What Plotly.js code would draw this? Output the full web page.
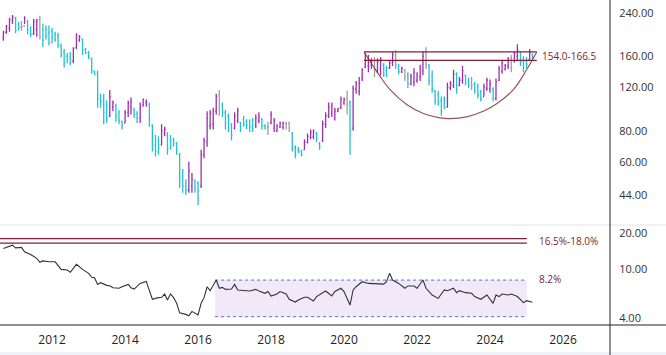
<!DOCTYPE html>
<html><head><meta charset="utf-8">
<script src="https://cdn.plot.ly/plotly-3.0.1.min.js"></script>
<style>html,body{margin:0;padding:0;background:#fff;overflow:hidden}#chart{width:666px;height:355px}</style>
</head><body><div id="chart"></div>
<script>
// ---- data ----
const START_YEAR = 2010, START_MONTH = 9; // first monthly bar: Sep 2010
// P = up (purple), C = down (cyan), G = neutral (grey)
const barColor = "PPPPCCGPCC" + "PPGCCCCCCC" + "CCCPPPCCCC" + "CCCCCPPCCC" + "PPPCCPPPCC" +
                 "CCPPCCCCCC" + "CPPCCPPPPP" + "PGCCCCPPCC" + "CCCPPCCGPP" + "PPPGGCCCCP" +
                 "PPPCCPPPPP" + "PPPGCPPPPP" + "PPGPPCCPPG" + "CPGCPPPPPG" + "CCCCCCPPPC" +
                 "PPCCGCCCPP" + "PCPPPPPGPP" + "CCCPC";
const openP = [189,200,208,222,228,216,210,212,222,207, 197,205,225,205,206,200,202,196,193,176,
  166,160,160,153,174,186,188,171,166,157, 139,137,111,106,102,92,100,101,94,87,
  86,95,100,97,94,90,102,104,102,84, 70,72,70,78,77,74,73,71,64,54,
  49,46,48,50,49,48,64,72,84,85, 96,112,102,95,92,84,82,88,86,89,
  87,87,88,84,88,89,84,83,86,82, 80,83,83,86,86,78,68,67,66,67,
  72,75,76,78,71,73,85,92,94,90, 96,99,104,108,104,82,118,115,130,145,
  146,147,153,140,142,148,140,144,150,162, 146,138,140,135,124,126,128,132,140,165,
  147,132,116,112,106,108,100,119,122,135, 122,128,134,128,125,124,120,115,110,118,
  118,118,108,128,139,142,146,157,153,160, 166,156,152,155,163];
const highP = [203,214,229,235,231,220,222,232,224,211, 226,226,233,217,213,213,208,201,199,180,
  171,165,167,174,198,195,189,173,168,158, 140,140,113,113,106,117,106,103,97,88,
  97,106,109,99,96,104,108,107,104,85, 77,76,85,83,79,77,75,72,65,56,
  51,60,54,51,50,67,75,96,97,99, 113,117,104,97,94,86,95,99,87,92,
  89,89,90,93,95,90,85,87,96,90, 85,87,87,87,87,79,70,69,67,74,
  78,81,81,79,72,88,95,104,104,99, 99,110,109,116,106,122,127,132,143,165,
  162,157,159,157,159,150,146,153,167,169, 149,145,142,138,136,143,138,148,167,174,
  149,140,117,116,110,110,125,127,141,138, 132,146,135,131,132,126,124,117,124,131,
  129,120,130,146,153,149,159,162,167,179, 167,160,159,171,164];
const lowP = [185,197,201,216,198,203,203,216,196,191, 195,192,187,174,187,177,180,183,173,158,
  144,150,147,150,171,183,162,163,156,136, 134,99,99,85,86,91,96,87,85,81,
  86,91,93,90,86,86,100,100,83,66, 63,64,70,76,64,67,69,64,47,45,
  44,45,45,45,40,47,62,69,81,81, 93,92,91,81,79,73,81,86,79,83,
  81,79,79,82,86,81,81,77,85,79, 79,82,81,81,79,66,62,65,63,67,
  71,74,74,72,67,72,82,90,91,88, 95,98,102,93,64,80,113,111,127,143,
  138,142,132,137,134,132,132,142,146,142, 135,137,127,119,122,121,125,127,134,142,
  122,114,102,101,92,98,99,117,119,113, 121,124,122,119,117,113,108,105,110,116,
  114,105,106,127,136,140,142,138,151,153, 146,138,143,153,156];
const closeP = [200,211,225,230,204,208,210,228,204,196, 221,224,192,185,193,182,190,186,178,162,
  150,155,151,172,193,192,170,166,160,140, 136,108,105,95,90,110,104,92,88,84,
  95,103,105,93,90,100,107,105,89,70, 66,68,80,81,68,70,71,66,51,48,
  46,55,51,47,46,64,73,90,94,96, 110,99,95,86,82,77,92,96,82,85,
  84,83,82,90,91,84,82,83,93,88, 84,86,86,85,82,68,64,66,64,72,
  76,79,80,74,69,85,92,100,101,96, 98,107,107,102,80,118,124,125,141,162,
  155,152,140,152,155,136,134,150,162,148, 139,143,132,124,132,138,134,144,160,148,
  128,118,106,104,96,100,120,124,136,118, 128,140,126,122,122,116,112,108,120,128,
  124,108,126,142,150,147,156,144,164,170, 152,144,148,166,158];

// lower panel line (month index from first bar, value %)
const ratioMonth = [1,2,4,5,7,8,10,12,13,14,16,18,19,20,22,23,24,25,26,27,29,30,31,32,33,35,36,37,39,40,
  42,43,44,46,48,49,50,52,53,54,55,56,57,58,59,61,62,63,65,66,67,68,69,71,72,73,74,76,77,78,
  81,82,84,85,87,88,89,91,92,94,95,97,98,100,101,103,104,106,107,109,110,112,113,115,116,117,119,121,122,124,
  126,127,128,129,131,133,134,136,137,139,140,142,144,145,146,147,149,150,151,153,155,156,158,160,162,163,164,165,167,168,
  170,172,173,175];
const ratioValue = [14.95,15.26,15.9,15.1,15.26,14.03,13.34,12.38,11.5,11.8,11.6,11.6,10.9,10.05,9.93,9.5,10.25,11.05,10.57,10.05,9.32,8.64,8.57,7.56,7.8,7.42,7.37,7.1,7.02,7.23,
  7.56,7.1,6.92,7.7,8.0,6.67,5.7,5.88,5.92,6.3,5.62,6.3,5.88,5.28,4.41,4.28,4.17,4.53,4.23,5.28,5.88,7.23,6.71,8.21,7.02,7.14,6.88,6.92,7.56,6.8,
  6.71,6.67,6.88,6.67,6.38,6.6,6.06,6.3,6.6,6.3,5.7,5.41,5.62,5.92,5.92,5.52,6.0,6.5,6.67,6.06,6.6,7.02,6.6,5.11,6.8,7.23,7.95,7.7,7.7,7.6,
  7.6,7.95,9.32,8.21,7.7,7.02,7.34,7.34,7.02,8.21,7.02,6.18,5.8,6.3,6.8,6.71,7.02,6.46,6.71,6.46,6.38,6.0,5.7,6.18,5.28,6.18,6.0,6.3,6.18,6.3,
  6.0,5.35,5.55,5.38];

// resistance zone & rounded-bottom curve (upper panel)
const zoneLow = 154.0, zoneHigh = 166.5;
const zoneStart = '2020-07-19', zoneEnd = '2025-04-13';
const bowlDates = ['2020-07-19','2020-10-21','2020-12-27','2021-04-06','2021-09-19','2022-03-05','2022-08-18',
  '2022-11-26','2023-05-12','2023-10-25','2024-03-07','2024-08-22','2025-01-01','2025-04-13'];
const bowlValues = [166.5,145.5,132.6,117.3,102.1,93.9,90.2,89.6,91.1,95.9,102.9,117.3,141.1,166.5];

// lower panel reference lines and band
const refLow = 16.5, refHigh = 18.0, refStart = '2010-07-29', refEnd = '2025-01-04';
const bandHigh = 8.2, bandLow = 4.1, bandStart = '2016-06-20', bandEnd = '2025-01-04';

const priceTicks = [44, 60, 80, 120, 160, 240];
const ratioTicks = [4, 10, 20];
const yearTicks = [2012, 2014, 2016, 2018, 2020, 2022, 2024, 2026];

// ---- build ----
function monthDate(i) {
  const m = START_MONTH - 1 + i;
  const y = START_YEAR + Math.floor(m / 12);
  return y + '-' + String(m % 12 + 1).padStart(2, '0') + '-01';
}
const dates = openP.map((_, i) => monthDate(i));

const MAROON = 'rgb(128,30,52)';
const colors = { P: '#9b2fae', C: '#22c1d6', G: '#9e9e9e' };
const traces = [];

// band fill
traces.push({ type: 'scatter', mode: 'lines', xaxis: 'x', yaxis: 'y2',
  x: [bandStart, bandEnd, bandEnd, bandStart, bandStart],
  y: [bandHigh, bandHigh, bandLow, bandLow, bandHigh],
  fill: 'toself', fillcolor: 'rgba(236,226,247,0.75)', line: { width: 0 }, hoverinfo: 'skip', showlegend: false });
[bandHigh, bandLow].forEach(v => traces.push({ type: 'scatter', mode: 'lines', xaxis: 'x', yaxis: 'y2',
  x: [bandStart, bandEnd], y: [v, v], line: { color: 'rgb(80,110,200)', width: 1, dash: 'dot' }, showlegend: false, hoverinfo: 'skip' }));
[refLow, refHigh].forEach(v => traces.push({ type: 'scatter', mode: 'lines', xaxis: 'x', yaxis: 'y2',
  x: [refStart, refEnd], y: [v, v], line: { color: MAROON, width: 1.2 }, showlegend: false, hoverinfo: 'skip' }));
traces.push({ type: 'scatter', mode: 'lines', xaxis: 'x', yaxis: 'y2',
  x: ratioMonth.map(i => monthDate(i - 1)), y: ratioValue,
  line: { color: '#333', width: 1.1 }, showlegend: false });

// price bars
['P', 'C', 'G'].forEach(k => {
  const idx = [];
  for (let i = 0; i < dates.length; i++) if (barColor[i] === k) idx.push(i);
  traces.push({ type: 'ohlc', xaxis: 'x', yaxis: 'y',
    x: idx.map(i => dates[i]), open: idx.map(i => openP[i]), high: idx.map(i => highP[i]),
    low: idx.map(i => lowP[i]), close: idx.map(i => closeP[i]),
    increasing: { line: { color: colors[k], width: 1.3 } },
    decreasing: { line: { color: colors[k], width: 1.3 } },
    tickwidth: 0.35, showlegend: false });
});
[zoneLow, zoneHigh].forEach(v => traces.push({ type: 'scatter', mode: 'lines', xaxis: 'x', yaxis: 'y',
  x: [zoneStart, zoneEnd], y: [v, v], line: { color: MAROON, width: 1.2 }, showlegend: false, hoverinfo: 'skip' }));
traces.push({ type: 'scatter', mode: 'lines', xaxis: 'x', yaxis: 'y',
  x: bowlDates, y: bowlValues, line: { color: 'rgba(140,50,60,0.85)', width: 1.2, shape: 'spline', smoothing: 1.0 },
  showlegend: false, hoverinfo: 'skip' });

const F = 'Open Sans, sans-serif';
const layout = {
  width: 666, height: 355,
  margin: { l: 0, r: 56, t: 0, b: 30 },
  paper_bgcolor: '#fff', plot_bgcolor: '#fff',
  showlegend: false,
  font: { family: F, color: '#333' },
  xaxis: { type: 'date', range: ['2010-07-29', '2027-04-16'], anchor: 'y2',
    tickvals: yearTicks.map(y => y + '-01-01'), ticktext: yearTicks.map(String),
    showgrid: false, zeroline: false, showline: false,
    ticks: 'outside', ticklen: 4, tickcolor: 'rgba(0,0,0,0)',
    tickfont: { size: 12, color: '#222', family: F },
    rangeslider: { visible: false } },
  yaxis: { type: 'log', domain: [0.3077, 1], side: 'right', anchor: 'x',
    range: [Math.log10(33.3), Math.log10(270)],
    tickvals: priceTicks, ticktext: priceTicks.map(v => v.toFixed(2)),
    showgrid: false, zeroline: false, showline: false,
    ticks: 'outside', ticklen: 6, tickcolor: 'rgba(0,0,0,0)',
    tickfont: { size: 11, color: '#333', family: F } },
  yaxis2: { type: 'log', domain: [0, 0.3077], side: 'right', anchor: 'x',
    range: [Math.log10(3.5), Math.log10(23.3)],
    tickvals: ratioTicks, ticktext: ratioTicks.map(v => v.toFixed(2)),
    showgrid: false, zeroline: false, showline: false,
    ticks: 'outside', ticklen: 6, tickcolor: 'rgba(0,0,0,0)',
    tickfont: { size: 11, color: '#333', family: F } },
  shapes: [
    { type: 'rect', xref: 'paper', yref: 'paper', x0: 0, x1: 1.0918, y0: -0.0923, y1: -0.083, fillcolor: '#eef1f6', line: { width: 0 }, layer: 'below' },
    { type: 'line', xref: 'paper', yref: 'paper', x0: 0, x1: 1.0918, y0: 0.3077, y1: 0.3077, line: { color: '#e3e5ea', width: 1 } },
    { type: 'line', xref: 'paper', yref: 'paper', x0: 0, x1: 1.0918, y0: 0, y1: 0, line: { color: '#222', width: 1 } },
    { type: 'line', xref: 'paper', yref: 'paper', x0: 1, x1: 1, y0: -0.0923, y1: 1, line: { color: '#222', width: 1 } }
  ],
  annotations: [
    { xref: 'x', yref: 'y', x: '2025-05-20', y: Math.log10(160), xanchor: 'left', yanchor: 'middle', showarrow: false,
      text: zoneLow.toFixed(1) + '-' + zoneHigh.toFixed(1), font: { size: 10, color: MAROON, family: F } },
    { xref: 'x', yref: 'y2', x: '2025-04-20', y: Math.log10(17.2), xanchor: 'left', yanchor: 'middle', showarrow: false,
      text: refLow.toFixed(1) + '%-' + refHigh.toFixed(1) + '%', font: { size: 10, color: MAROON, family: F } },
    { xref: 'x', yref: 'y2', x: '2025-04-20', y: Math.log10(8.45), xanchor: 'left', yanchor: 'middle', showarrow: false,
      text: bandHigh.toFixed(1) + '%', font: { size: 10, color: MAROON, family: F } }
  ]
};
Plotly.newPlot('chart', traces, layout, { displayModeBar: false, staticPlot: true });
</script></body></html>
